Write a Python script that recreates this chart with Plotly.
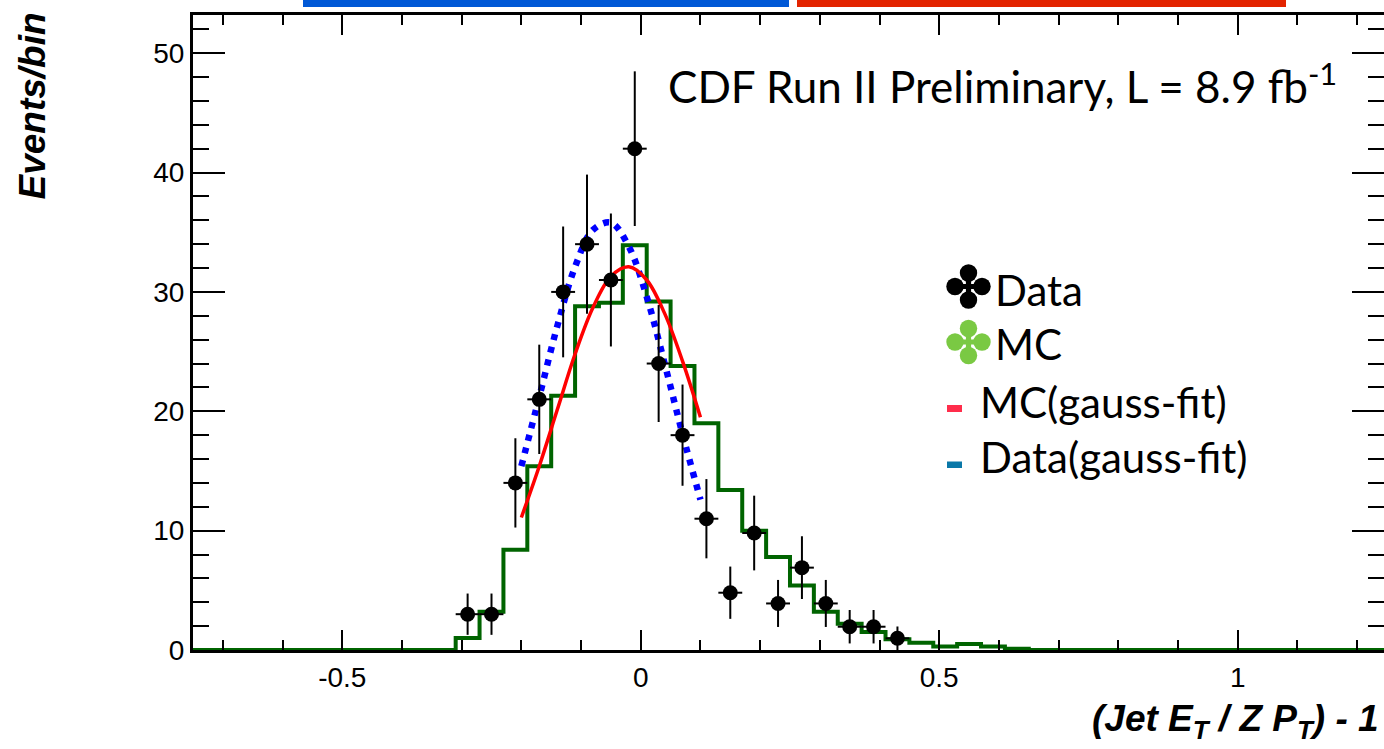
import plotly.graph_objects as go

# ---------------- data ----------------
data_x = [-0.29, -0.25, -0.21, -0.17, -0.13, -0.09, -0.05, -0.01, 0.03, 0.07,
          0.11, 0.15, 0.19, 0.23, 0.27, 0.31, 0.35, 0.39, 0.43]
data_y = [3.0, 3.0, 14.0, 21.0, 30.0, 34.0, 31.0, 42.0, 24.0, 18.0,
          11.0, 4.8, 9.8, 3.9, 6.9, 3.9, 1.95, 1.95, 0.98]
data_err = [1.73, 1.73, 3.74, 4.58, 5.48, 5.83, 5.57, 6.48, 4.90, 4.24,
            3.32, 2.19, 3.13, 1.97, 2.63, 1.97, 1.40, 1.40, 0.99]
data_halfbin = 0.02

mc_edges = [-0.75, -0.31, -0.27, -0.23, -0.19, -0.15, -0.11, -0.07, -0.03, 0.01,
            0.05, 0.09, 0.13, 0.17, 0.21, 0.25, 0.29, 0.33, 0.37, 0.41,
            0.45, 0.49, 0.53, 0.57, 0.61, 0.65, 1.25]
mc_counts = [0.0, 1.0, 3.2, 8.4, 15.4, 21.3, 28.8, 29.1, 33.9, 29.2,
             23.8, 19.0, 13.4, 10.0, 7.8, 5.4, 3.2, 2.2, 1.5, 0.9,
             0.6, 0.3, 0.5, 0.3, 0.1, 0.0, 0.0]

mc_fit_x = [-0.20, -0.17, -0.14, -0.11, -0.08, -0.05, -0.02, 0.01, 0.04, 0.07, 0.10]
mc_fit_y = [11.1, 15.4, 20.1, 24.8, 28.7, 31.3, 32.1, 31.0, 28.2, 24.2, 19.5]

data_fit_x = [-0.20, -0.17, -0.14, -0.11, -0.08, -0.05, -0.02, 0.01, 0.04, 0.07, 0.10]
data_fit_y = [15.4, 21.2, 27.1, 32.1, 35.2, 35.8, 33.8, 29.6, 24.0, 18.1, 12.6]

x_tickvals = [-0.5, 0, 0.5, 1]
x_ticktext = ["-0.5", "0", "0.5", "1"]
y_tickvals = [0, 10, 20, 30, 40, 50]
y_ticktext = ["0", "10", "20", "30", "40", "50"]

x_range = [-0.75, 1.245]
y_range = [0, 53.2]

# ---------------- layout geometry (pixels) ----------------
W, H = 1384, 749
L, R, T, B = 193, 1384, 15, 650


def px_x(p):
    return (p - L) / (R - L)


def px_y(p):
    return (B - p) / (B - T)


fig = go.Figure()

# MC histogram
fig.add_trace(go.Scatter(
    x=mc_edges, y=mc_counts, mode="lines", line_shape="hv",
    line=dict(color="#006400", width=4), showlegend=False, hoverinfo="skip"))

# Data fit (blue dotted)
fig.add_trace(go.Scatter(
    x=data_fit_x, y=data_fit_y, mode="lines", line_shape="spline",
    line=dict(color="#0000ff", width=6.5, dash="6px,7px"), showlegend=False))

# MC fit (red)
fig.add_trace(go.Scatter(
    x=mc_fit_x, y=mc_fit_y, mode="lines", line_shape="spline",
    line=dict(color="#ff0000", width=3.5), showlegend=False))

# Data points
fig.add_trace(go.Scatter(
    x=data_x, y=data_y, mode="markers",
    marker=dict(color="black", size=15),
    error_y=dict(type="data", array=data_err, color="black", thickness=2, width=0),
    error_x=dict(type="constant", value=data_halfbin, color="black", thickness=2, width=0),
    showlegend=False))

tickfont = dict(family="Liberation Sans, Arial, sans-serif", size=28, color="black")

fig.update_layout(
    width=W, height=H,
    margin=dict(l=L, r=W - R, t=T, b=H - B, pad=0),
    paper_bgcolor="white", plot_bgcolor="white",
    showlegend=False,
    xaxis=dict(
        range=x_range, tickmode="array", tickvals=x_tickvals, ticktext=x_ticktext,
        ticks="inside", ticklen=20, tickwidth=2, tickcolor="black",
        showline=True, linewidth=3, linecolor="black", mirror="ticks",
        showgrid=False, zeroline=False, tickfont=tickfont, automargin=False,
        minor=dict(tickmode="linear", tick0=0, dtick=0.1, ticks="inside",
                   ticklen=10, tickwidth=1.5, tickcolor="black", showgrid=False),
    ),
    yaxis=dict(
        range=y_range, tickmode="array", tickvals=y_tickvals, ticktext=y_ticktext,
        ticks="inside", ticklen=32, tickwidth=2, tickcolor="black",
        showline=True, linewidth=3, linecolor="black", mirror="ticks",
        showgrid=False, zeroline=False, tickfont=tickfont, automargin=False,
        minor=dict(tickmode="linear", tick0=0, dtick=2, ticks="inside",
                   ticklen=16, tickwidth=1.5, tickcolor="black", showgrid=False),
    ),
)

title_font = dict(family="Liberation Sans, Arial, sans-serif", size=37,
                  color="black", weight="bold", style="italic")
gill = dict(family="Lato, sans-serif", size=42, color="black")
cdf_font = dict(family="Lato, sans-serif", size=44, color="black")

annotations = [
    dict(text="(Jet E<sub>T</sub> / Z P<sub>T</sub>) - 1", x=px_x(1381), y=px_y(696),
         xanchor="right", yanchor="top", font=title_font),
    dict(text="Events/bin", textangle=-90, x=px_x(32), y=px_y(11),
         xanchor="center", yanchor="top", font=title_font),
    dict(text="CDF Run II Preliminary, L = 8.9 fb<sup>-1</sup>", x=px_x(666), y=px_y(83),
         xanchor="left", yanchor="middle", font=cdf_font),
    dict(text="Data", x=px_x(993), y=px_y(290), xanchor="left", yanchor="middle", font=gill),
    dict(text="MC", x=px_x(993), y=px_y(344), xanchor="left", yanchor="middle", font=gill),
    dict(text="MC(gauss-fit)", x=px_x(978), y=px_y(402), xanchor="left", yanchor="middle", font=gill),
    dict(text="Data(gauss-fit)", x=px_x(978), y=px_y(457), xanchor="left", yanchor="middle", font=gill),
]
for a in annotations:
    a.setdefault("xref", "paper")
    a.setdefault("yref", "paper")
    a.setdefault("showarrow", False)
    fig.add_annotation(**a)

# slide header bars and legend keys (decorations, paper coordinates)
shapes = [
    dict(type="rect", x0=px_x(303), x1=px_x(789), y0=px_y(7), y1=px_y(0), fillcolor="#0058d6"),
    dict(type="rect", x0=px_x(797), x1=px_x(1286), y0=px_y(7), y1=px_y(0), fillcolor="#e32400"),
    dict(type="rect", x0=px_x(947), x1=px_x(962), y0=px_y(412), y1=px_y(405), fillcolor="#ff2d4b"),
    dict(type="rect", x0=px_x(947), x1=px_x(962), y0=px_y(468), y1=px_y(461.5), fillcolor="#0a78a8"),
]
for s in shapes:
    fig.add_shape(xref="paper", yref="paper", line_width=0, layer="above", **s)

# clover legend keys (four lobes joined by a small cross), sized in pixels
lobe_r, lobe_off, w, a = 8.7, 13.5, 2.6, 13.0
plus_pts = [(-a, -w), (-w, -w), (-w, -a), (w, -a), (w, -w), (a, -w),
            (a, w), (w, w), (w, a), (-w, a), (-w, w), (-a, w)]
plus_path = "M" + " L".join(f"{px},{py}" for px, py in plus_pts) + " Z"
for cx, cy, col in [(968.5, 286.5, "black"), (968.5, 342.0, "#7ac943")]:
    common = dict(xref="paper", yref="paper", xsizemode="pixel", ysizemode="pixel",
                  xanchor=px_x(cx), yanchor=px_y(cy), fillcolor=col, line_width=0,
                  layer="above")
    for dx, dy in [(0, lobe_off), (0, -lobe_off), (lobe_off, 0), (-lobe_off, 0)]:
        fig.add_shape(type="circle", x0=dx - lobe_r, x1=dx + lobe_r,
                      y0=dy - lobe_r, y1=dy + lobe_r, **common)
    fig.add_shape(type="path", path=plus_path, **common)

fig.write_html("out.html")
